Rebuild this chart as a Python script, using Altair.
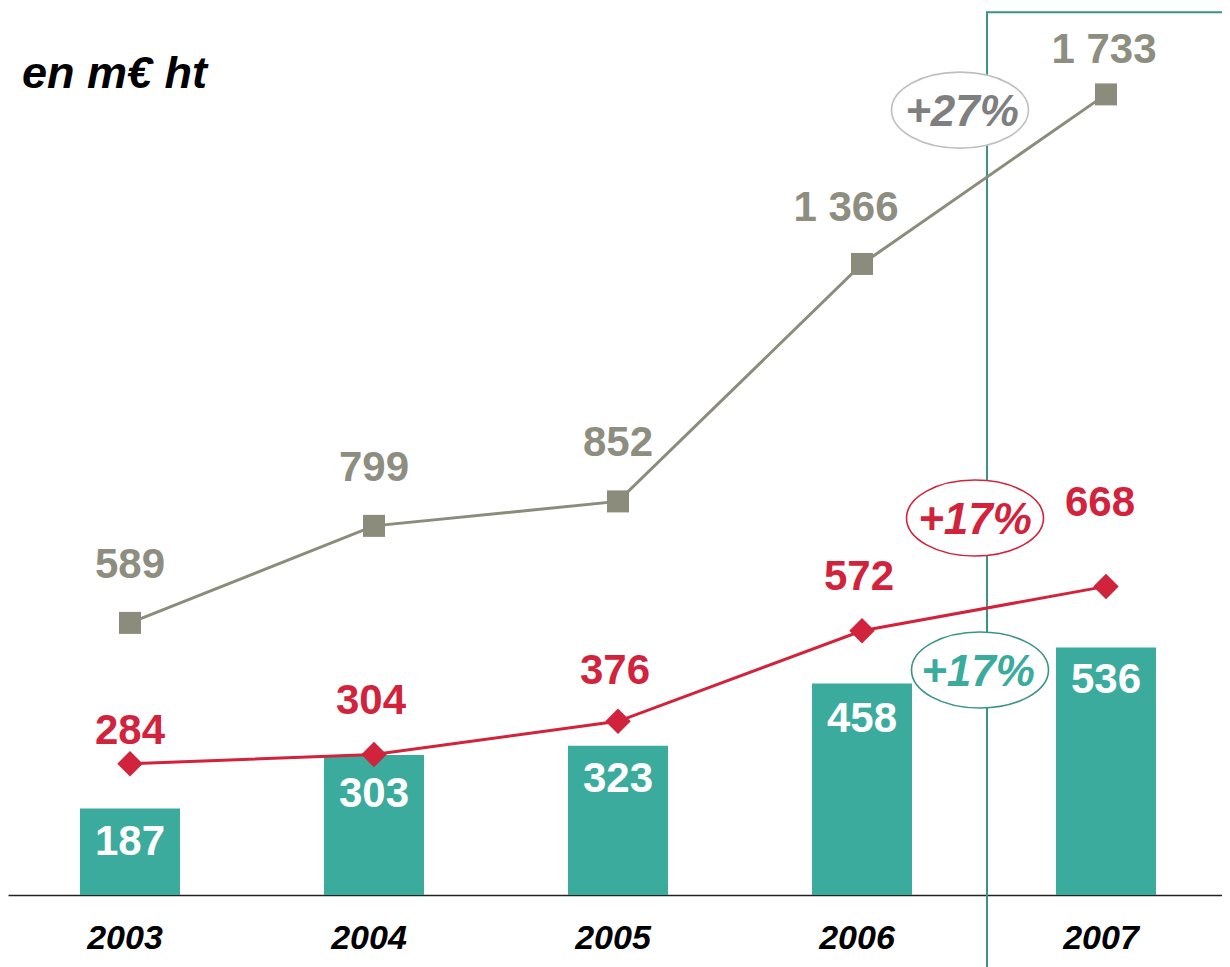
import altair as alt
import pandas as pd

# ---------------- data ----------------
years = ["2003", "2004", "2005", "2006", "2007"]
series_gray = [589, 799, 852, 1366, 1733]
series_red = [284, 304, 376, 572, 668]
series_bars = [187, 303, 323, 458, 536]

callout_texts = ["+27%", "+17%", "+17%"]
callout_levels = [1699, 816, 487]      # value-axis level of each growth callout
callout_year = "2007"

box_year = "2007"
box_top = 1911
box_bottom = -175

title_text = "en m€  ht"

# ---------------- style ----------------
FONT = "Liberation Sans"
GRAY = "#8C8C7C"
GRAY_TXT = "#8D8D80"
RED = "#D2233C"
TEAL = "#3AAB9C"
BOX = "#3A9384"
LBL = 42


def fmt(v):
    return f"{v:,}".replace(",", " ")


df = pd.DataFrame({
    "year": years,
    "gray": series_gray,
    "red": series_red,
    "bars": series_bars,
})
df["gray_label"] = [fmt(v) for v in series_gray]
df["red_label"] = [fmt(v) for v in series_red]
df["bars_label"] = [fmt(v) for v in series_bars]

Y_SCALE = alt.Scale(domain=[0, 1920], nice=False, zero=False)


def X():
    return alt.X(
        "year:N",
        sort=years,
        scale=alt.Scale(paddingInner=0, paddingOuter=0, range=[0, 1220]),
        axis=alt.Axis(
            title=None, labelAngle=0, ticks=False, tickSize=0,
            domainColor="#222222", domainWidth=1.5,
            labelFont=FONT, labelFontSize=34, labelFontWeight="bold",
            labelFontStyle="italic", labelColor="#000000", labelPadding=26,
            labelOffset=-5,
        ),
    )


def Y(field):
    return alt.Y(f"{field}:Q", scale=Y_SCALE, axis=None)


base = alt.Chart(df)

bars = base.mark_bar(size=100, color=TEAL).encode(x=X(), y=Y("bars"))

box_df = pd.DataFrame({"year": [box_year], "top": [box_top], "bottom": [box_bottom]})
box = alt.Chart(box_df).mark_rect(
    fillOpacity=0, stroke=BOX, strokeWidth=2, xOffset=3
).encode(x=X(), y=Y("top"), y2="bottom:Q")

ELLIPSE = "M -1 0 A 1 0.555 0 1 0 1 0 A 1 0.555 0 1 0 -1 0 Z"


def callout(i, text_color, stroke_color, xoff_shape, xoff_text):
    d = pd.DataFrame({"year": [callout_year], "lvl": [callout_levels[i]], "txt": [callout_texts[i]]})
    shp = alt.Chart(d).mark_point(
        shape=ELLIPSE, size=18769, filled=True, fill="white", fillOpacity=1,
        stroke=stroke_color, strokeWidth=1.6, opacity=1, xOffset=xoff_shape,
    ).encode(x=X(), y=Y("lvl"))
    txt = alt.Chart(d).mark_text(
        font=FONT, fontSize=44, fontWeight="bold", fontStyle="italic",
        color=text_color, baseline="middle", align="center", dx=xoff_text, dy=3,
    ).encode(x=X(), y=Y("lvl"), text="txt:N")
    return shp + txt


gray_line = base.mark_line(color=GRAY, strokeWidth=3).encode(x=X(), y=Y("gray"))
gray_pts = base.mark_point(shape="square", filled=True, size=484, color=GRAY, opacity=1).encode(
    x=X(), y=Y("gray"))
red_line = base.mark_line(color=RED, strokeWidth=3).encode(x=X(), y=Y("red"))
red_pts = base.mark_point(shape="diamond", filled=True, size=650, color=RED, opacity=1).encode(
    x=X(), y=Y("red"))


def labels(field, color, dy, dx=0, only=None, skip=None):
    c = base
    if only is not None:
        c = c.transform_filter(alt.FieldOneOfPredicate(field="year", oneOf=only))
    if skip is not None:
        c = c.transform_filter(~alt.FieldOneOfPredicate(field="year", oneOf=skip))
    return c.mark_text(
        font=FONT, fontSize=LBL, fontWeight="bold", color=color,
        baseline="middle", align="center", dy=dy, dx=dx,
    ).encode(x=X(), y=Y(field), text=f"{field}_label:N")


gray_labels = (
    labels("gray", GRAY_TXT, -58, skip=["2006", "2007"])
    + labels("gray", GRAY_TXT, -56, dx=-16, only=["2006"])
    + labels("gray", GRAY_TXT, -44, dx=-2, only=["2007"])
)
red_labels = (
    labels("red", RED, -54, dx=-3, skip=["2003", "2005", "2007"])
    + labels("red", RED, -50, dx=-3, only=["2005"])
    + labels("red", RED, -33, only=["2003"])
    + labels("red", RED, -83, dx=-6, only=["2007"])
)
bar_labels = (
    labels("bars", "white", 33, skip=["2004", "2006"])
    + labels("bars", "white", 39, only=["2004"])
    + labels("bars", "white", 36, only=["2006"])
)

chart = alt.layer(
    bars,
    box,
    callout(0, "#7F7F7F", "#BFBFBF", -146, -144),
    callout(1, RED, RED, -131, -131),
    callout(2, TEAL, BOX, -126, -128),
    gray_line, gray_pts,
    red_line, red_pts,
    gray_labels, red_labels, bar_labels,
).properties(
    width=1214,
    height=887,
    background="white",
    autosize=alt.AutoSizeParams(type="none"),
    padding={"left": 0, "top": 0, "right": 0, "bottom": 72},
    title=alt.TitleParams(
        title_text, anchor="start", orient="top", frame="group",
        font=FONT, fontSize=45, fontWeight="bold", fontStyle="italic",
        color="#000000", baseline="alphabetic", offset=0, dx=14, dy=125,
    ),
).configure_view(stroke="transparent", strokeWidth=0)

chart.save("out.html", embed_options={"renderer": "svg", "actions": False})
